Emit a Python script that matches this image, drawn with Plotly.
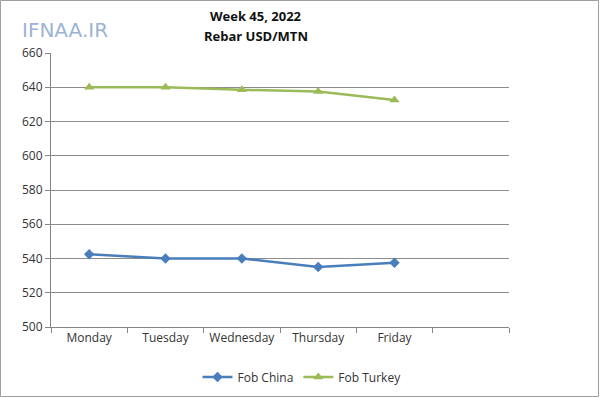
import plotly.graph_objects as go

days = ["Monday", "Tuesday", "Wednesday", "Thursday", "Friday"]
categories = days + [" "]
fob_china = [542.5, 540, 540, 535, 537.5]
fob_turkey = [640, 640, 638.5, 637.5, 632.5]
y_ticks = [500, 520, 540, 560, 580, 600, 620, 640, 660]

W, H = 600, 398
ml, mr, mt, mb = 51, 91, 53, 71
pw, ph = W - ml - mr, H - mt - mb

fig = go.Figure()
fig.add_trace(go.Scatter(x=days, y=fob_china, name="Fob China", mode="lines+markers",
                         line=dict(color="#4A7EBB", width=2.5),
                         marker=dict(symbol="diamond", size=8, color="#4A7EBB")))
fig.add_trace(go.Scatter(x=days, y=fob_turkey, name="Fob Turkey", mode="lines+markers",
                         line=dict(color="#9BBB59", width=2.5),
                         marker=dict(symbol="triangle-up", size=9, color="#9BBB59")))

font = "Open Sans"
fig.update_layout(
    width=W, height=H,
    margin=dict(l=ml, r=mr, t=mt, b=mb, autoexpand=False),
    paper_bgcolor="white", plot_bgcolor="white",
    font=dict(family=font, size=12, color="#333333"),
    showlegend=True,
    legend=dict(orientation="h", x=(302 - ml) / pw, xanchor="center",
                y=(H - mb - 377) / ph, yanchor="middle",
                font=dict(size=12, color="#333333"), itemwidth=30),
    xaxis=dict(type="category", categoryorder="array", categoryarray=categories,
               range=[-0.5, 5.5], tickson="boundaries", ticks="outside", ticklen=5,
               tickcolor="#868686", showline=True, linecolor="#868686", linewidth=1,
               showgrid=False, tickfont=dict(size=12, color="#333333"), fixedrange=True),
    yaxis=dict(range=[500, 660], tickvals=y_ticks, ticks="outside", ticklen=5,
               tickcolor="#868686", showline=True, linecolor="#868686", linewidth=1,
               showgrid=True, gridcolor="#8C8C8C", gridwidth=1, zeroline=False,
               tickfont=dict(size=12, color="#333333")),
)

# title
fig.add_annotation(text="<b>Week 45, 2022</b>", xref="paper", yref="paper",
                   x=(256 - ml) / pw, y=(H - mb - 16) / ph, showarrow=False,
                   font=dict(size=13, color="#111111", family=font), xanchor="center", yanchor="middle")
fig.add_annotation(text="<b>Rebar USD/MTN</b>", xref="paper", yref="paper",
                   x=(256 - ml) / pw, y=(H - mb - 36) / ph, showarrow=False,
                   font=dict(size=13, color="#111111", family=font), xanchor="center", yanchor="middle")
# logo
fig.add_annotation(text="IFNAA.IR", xref="paper", yref="paper",
                   x=(20 - ml) / pw, y=(H - mb - 30) / ph, showarrow=False,
                   font=dict(size=20, color="#9CB3D3", family="DejaVu Sans"),
                   xanchor="left", yanchor="middle")
# outer border
fig.add_shape(type="rect", xref="paper", yref="paper",
              x0=(0.5 - ml) / pw, x1=(W - 1.5 - ml) / pw,
              y0=(H - mb - (H - 1.5)) / ph, y1=(H - mb - 0.5) / ph,
              line=dict(color="#A0A0A0", width=1), layer="below")

fig.write_html("out.html", config={"displayModeBar": False},
               post_script="document.body.style.margin='0';")
